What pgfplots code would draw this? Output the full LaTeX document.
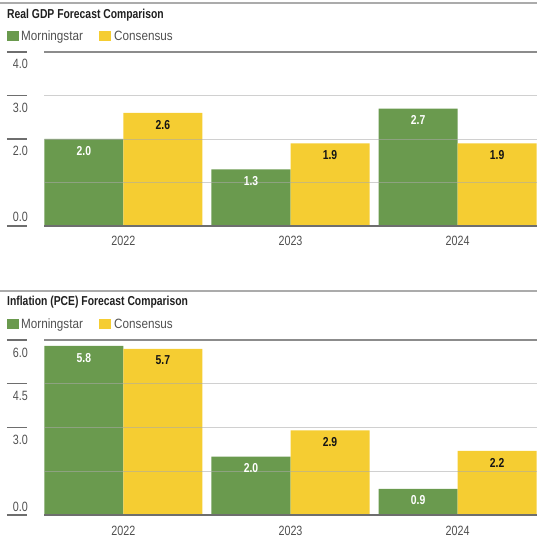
\documentclass[border=0pt]{standalone}
\usepackage{pgfplots}
\pgfplotsset{compat=1.18}
\usepackage{fontspec}
\setmainfont{Liberation Sans}[FakeStretch=0.8]
\newfontfamily\legfont{Liberation Sans}[FakeStretch=0.87]
\definecolor{msgreen}{RGB}{106,154,78}
\definecolor{consyellow}{RGB}{245,205,50}
\definecolor{txtgray}{RGB}{80,80,80}
\definecolor{darkline}{RGB}{140,140,140}
\definecolor{tickline}{RGB}{110,110,110}
\definecolor{gridc}{RGB}{170,170,170}

\newcommand{\valfmt}{\pgfmathprintnumber[fixed,fixed zerofill,precision=1,assume math mode=true]{\pgfplotspointmeta}}

\pgfplotsset{panel/.style={
  scale only axis, width=493bp,
  xmin=-0.475, xmax=2.475, ymin=0,
  axis line style={draw=none}, major tick length=0pt,
  ytick=\empty, xtick=\empty,
  clip=false,
  ybar, bar width=0.473,
  every node near coord/.append style={font=\fontsize{13}{15}\selectfont\bfseries, anchor=north, inner sep=0pt, yshift=-7bp},
}}
\tikzset{
gridl/.style={gridc, opacity=0.55, line width=0.9bp},
tickl/.style={tickline, line width=1.2bp},
ticklab/.style={anchor=base east, inner sep=0pt, text=txtgray, font=\fontsize{13.5}{15}\selectfont},
yearlab/.style={anchor=base, inner sep=0pt, text=txtgray, font=\fontsize{13.5}{15}\selectfont},
}

\pgfplotstableread{
x ms cons
0 2.0 2.6
1 1.3 1.9
2 2.7 1.9
}\gdp
\pgfplotstableread{
x ms cons
0 5.8 5.7
1 2.0 2.9
2 0.9 2.2
}\pce

\begin{document}
\begin{tikzpicture}
\useasboundingbox (0bp,0bp) rectangle (544bp,541bp);
% ---------- top panel header
\draw[line width=1.6bp, color=black!33] (0bp,538bp) -- (537bp,538bp);
\node[anchor=base west, inner sep=0pt, text=black!88] at (7bp,522.7bp) {\fontsize{13}{15}\selectfont\bfseries Real GDP Forecast Comparison};
\fill[msgreen] (7bp,500bp) rectangle (19bp,510bp);
\node[anchor=base west, inner sep=0pt, text=txtgray] at (21bp,500.5bp) {\legfont\fontsize{13.5}{15}\selectfont Morningstar};
\fill[consyellow] (99bp,500bp) rectangle (111bp,510bp);
\node[anchor=base west, inner sep=0pt, text=txtgray] at (114bp,500.5bp) {\legfont\fontsize{13.5}{15}\selectfont Consensus};

\begin{axis}[panel, at={(44bp,315bp)}, anchor=south west, height=174bp, ymax=4]
\addplot[fill=msgreen, draw=none, bar shift=-0.2365, nodes near coords={\valfmt}, nodes near coords style={text=white}] table[x=x,y=ms]{\gdp};
\addplot[fill=consyellow, draw=none, bar shift=0.2365, nodes near coords={\valfmt}, nodes near coords style={text=black!92}] table[x=x,y=cons]{\gdp};
\draw[gridl] (axis cs:-0.475,1) -- (axis cs:2.475,1);
\draw[gridl] (axis cs:-0.475,2) -- (axis cs:2.475,2);
\draw[gridl] (axis cs:-0.475,3) -- (axis cs:2.475,3);
\draw[darkline, line width=1.2bp] (axis cs:-0.475,4) -- (axis cs:2.475,4);
\draw[tickl] (axis cs:-0.475,0) -- (axis cs:2.475,0);
\draw[tickl] ([xshift=-37bp]axis cs:-0.475,0) -- ([xshift=-17bp]axis cs:-0.475,0);
\draw[tickl] ([xshift=-37bp]axis cs:-0.475,2) -- ([xshift=-17bp]axis cs:-0.475,2);
\draw[tickl] ([xshift=-37bp]axis cs:-0.475,3) -- ([xshift=-17bp]axis cs:-0.475,3);
\draw[tickl] ([xshift=-37bp]axis cs:-0.475,4) -- ([xshift=-17bp]axis cs:-0.475,4);
\node[ticklab] at ([xshift=-16bp,yshift=-17bp]axis cs:-0.475,4) {4.0};
\node[ticklab] at ([xshift=-16bp,yshift=-17bp]axis cs:-0.475,3) {3.0};
\node[ticklab] at ([xshift=-16bp,yshift=-17bp]axis cs:-0.475,2) {2.0};
\node[ticklab] at ([xshift=-16bp,yshift=4bp]axis cs:-0.475,0) {0.0};
\node[yearlab] at ([yshift=-20bp]axis cs:0,0) {2022};
\node[yearlab] at ([yshift=-20bp]axis cs:1,0) {2023};
\node[yearlab] at ([yshift=-20bp]axis cs:2,0) {2024};
\end{axis}

% ---------- bottom panel header
\draw[line width=1.6bp, color=black!33] (0bp,250bp) -- (537bp,250bp);
\node[anchor=base west, inner sep=0pt, text=black!88] at (7bp,235bp) {\fontsize{13}{15}\selectfont\bfseries Inflation (PCE) Forecast Comparison};
\fill[msgreen] (7bp,212bp) rectangle (19bp,222bp);
\node[anchor=base west, inner sep=0pt, text=txtgray] at (21bp,212.7bp) {\legfont\fontsize{13.5}{15}\selectfont Morningstar};
\fill[consyellow] (99bp,212bp) rectangle (111bp,222bp);
\node[anchor=base west, inner sep=0pt, text=txtgray] at (114bp,212.7bp) {\legfont\fontsize{13.5}{15}\selectfont Consensus};

\begin{axis}[panel, at={(44bp,26bp)}, anchor=south west, height=175bp, ymax=6]
\addplot[fill=msgreen, draw=none, bar shift=-0.2365, nodes near coords={\valfmt}, nodes near coords style={text=white}] table[x=x,y=ms]{\pce};
\addplot[fill=consyellow, draw=none, bar shift=0.2365, nodes near coords={\valfmt}, nodes near coords style={text=black!92}] table[x=x,y=cons]{\pce};
\draw[gridl] (axis cs:-0.475,1.5) -- (axis cs:2.475,1.5);
\draw[gridl] (axis cs:-0.475,3) -- (axis cs:2.475,3);
\draw[gridl] (axis cs:-0.475,4.5) -- (axis cs:2.475,4.5);
\draw[darkline, line width=1.2bp] (axis cs:-0.475,6) -- (axis cs:2.475,6);
\draw[tickl] (axis cs:-0.475,0) -- (axis cs:2.475,0);
\draw[tickl] ([xshift=-37bp]axis cs:-0.475,0) -- ([xshift=-17bp]axis cs:-0.475,0);
\draw[tickl] ([xshift=-37bp]axis cs:-0.475,3) -- ([xshift=-17bp]axis cs:-0.475,3);
\draw[tickl] ([xshift=-37bp]axis cs:-0.475,4.5) -- ([xshift=-17bp]axis cs:-0.475,4.5);
\draw[tickl] ([xshift=-37bp]axis cs:-0.475,6) -- ([xshift=-17bp]axis cs:-0.475,6);
\node[ticklab] at ([xshift=-16bp,yshift=-17bp]axis cs:-0.475,6) {6.0};
\node[ticklab] at ([xshift=-16bp,yshift=-17bp]axis cs:-0.475,4.5) {4.5};
\node[ticklab] at ([xshift=-16bp,yshift=-17bp]axis cs:-0.475,3) {3.0};
\node[ticklab] at ([xshift=-16bp,yshift=4bp]axis cs:-0.475,0) {0.0};
\node[yearlab] at ([yshift=-20bp]axis cs:0,0) {2022};
\node[yearlab] at ([yshift=-20bp]axis cs:1,0) {2023};
\node[yearlab] at ([yshift=-20bp]axis cs:2,0) {2024};
\end{axis}
\end{tikzpicture}
\end{document}
